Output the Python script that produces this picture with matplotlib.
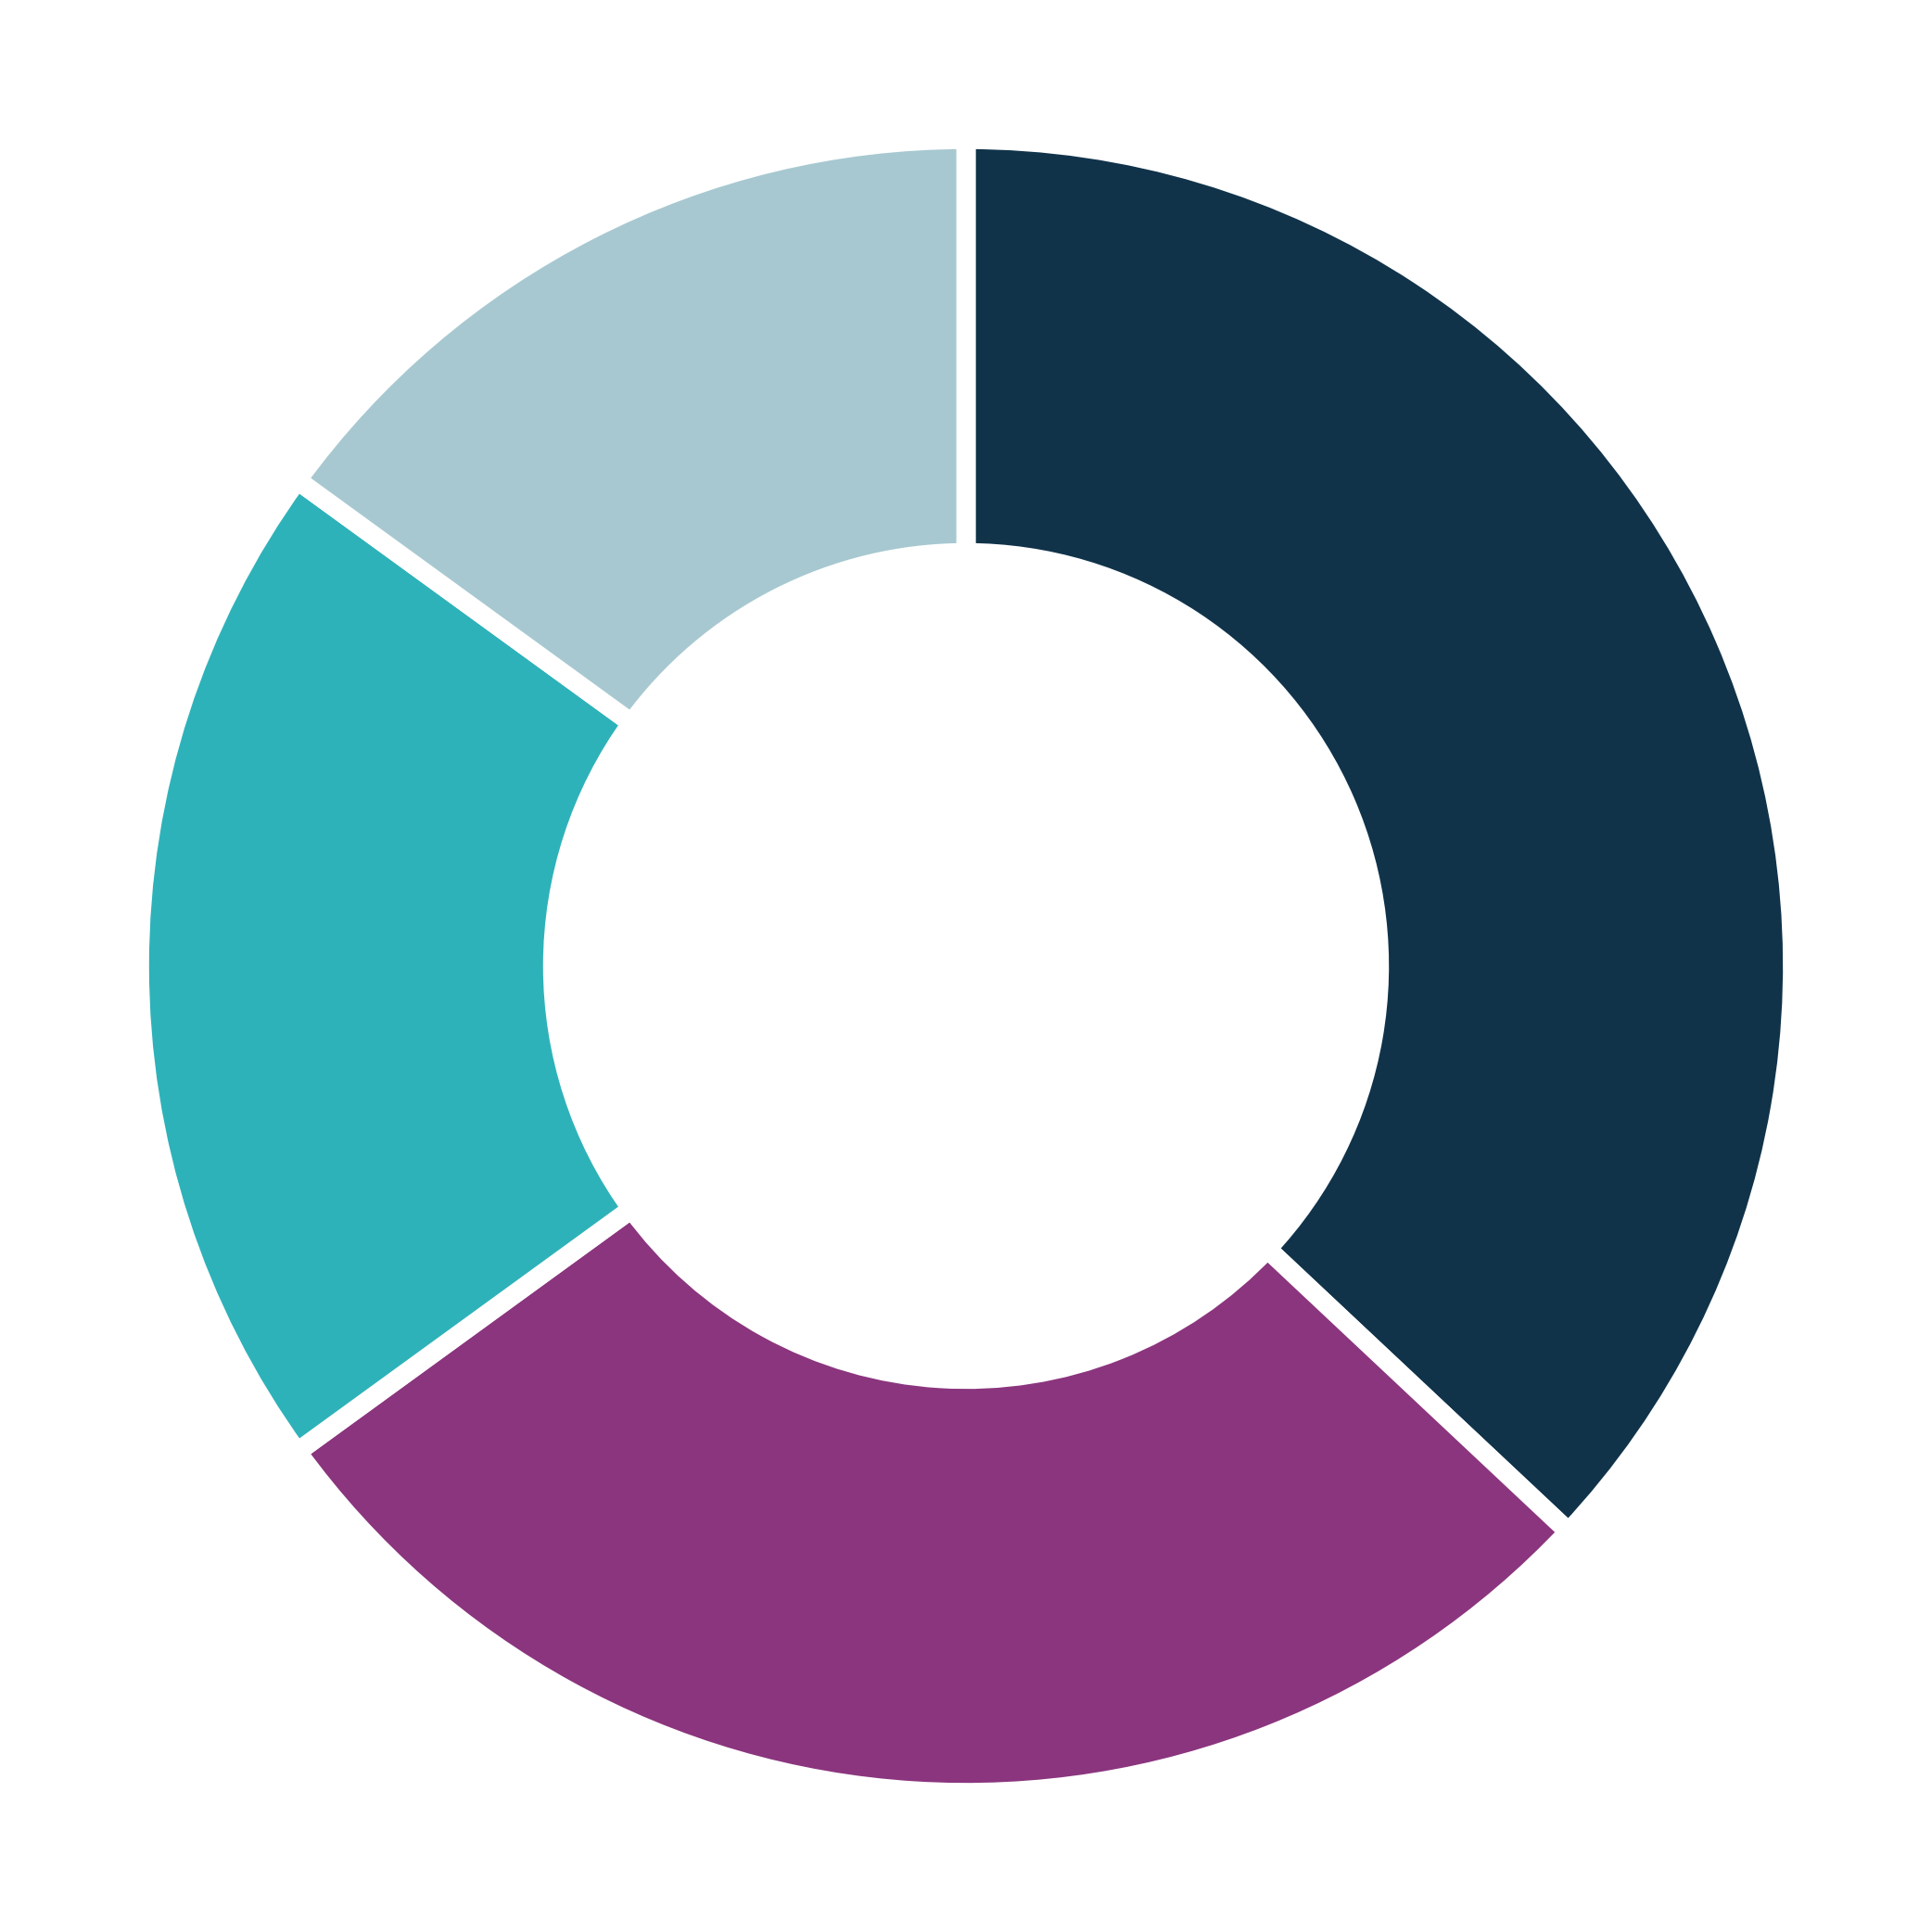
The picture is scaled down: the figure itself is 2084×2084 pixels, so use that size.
import matplotlib
matplotlib.use("Agg")
import matplotlib.pyplot as plt

# segment shares, clockwise from 12 o'clock
labels = ['A', 'B', 'C', 'D']
values = [37, 28, 20, 15]
colors = ['#10334a', '#8b357e', '#2eb2b9', '#a7c8d0']

fig = plt.figure(figsize=(20.84, 20.84), dpi=100)
ax = fig.add_axes([0, 0, 1, 1])

ax.pie(values, colors=colors, startangle=90, counterclock=False,
       radius=1.0,
       wedgeprops=dict(width=0.5, edgecolor='white', linewidth=15))

lim = 1.1687
ax.set_xlim(-lim, lim)
ax.set_ylim(-lim, lim)
ax.set_aspect('equal')
ax.axis('off')

fig.savefig('out.png', dpi=100, facecolor='white')
